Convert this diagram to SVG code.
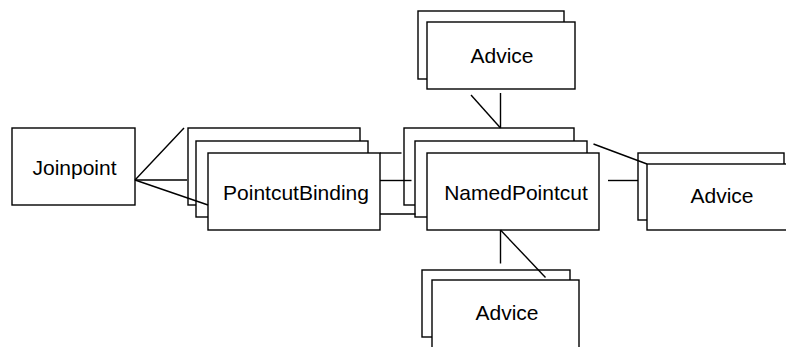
<svg xmlns="http://www.w3.org/2000/svg" width="786" height="347" viewBox="0 0 786 347">
  <style>
    .box { fill: #ffffff; stroke: #000000; stroke-width: 1.4; }
    .lbl { font-family: "Liberation Sans", Arial, sans-serif; font-size: 21px; fill: #000000; text-anchor: middle; }
    .conn line { stroke: #000000; stroke-width: 1.4; }
  </style>
  <rect width="786" height="347" fill="#ffffff"/>

  <g id="joinpoint">
    <rect class="box" x="12" y="128" width="123" height="77"/>
    <text class="lbl" x="74.5" y="175">Joinpoint</text>
  </g>

  <g id="pointcut-binding">
    <rect class="box" x="188" y="128" width="172" height="77"/>
    <rect class="box" x="196" y="141" width="172" height="76"/>
    <rect class="box" x="208" y="153" width="172" height="77"/>
    <text class="lbl" x="296" y="199.5">PointcutBinding</text>
  </g>

  <g id="named-pointcut">
    <rect class="box" x="404" y="128" width="170" height="77"/>
    <rect class="box" x="415" y="141" width="172" height="76"/>
    <rect class="box" x="427" y="153" width="172" height="77"/>
    <text class="lbl" x="516" y="199.5">NamedPointcut</text>
  </g>

  <g id="advice-top">
    <rect class="box" x="418" y="11" width="146" height="68"/>
    <rect class="box" x="427" y="22" width="148" height="67"/>
    <text class="lbl" x="502" y="63">Advice</text>
  </g>

  <g id="advice-right">
    <rect class="box" x="638" y="153" width="146" height="67"/>
    <rect class="box" x="647" y="164" width="148" height="66"/>
    <text class="lbl" x="722" y="203">Advice</text>
  </g>

  <g id="advice-bottom">
    <rect class="box" x="422" y="270" width="148" height="67"/>
    <rect class="box" x="432" y="280" width="147" height="72"/>
    <text class="lbl" x="507" y="320">Advice</text>
  </g>

  <g id="connectors" class="conn">
    <!-- Joinpoint to PointcutBinding stack -->
    <line x1="135" y1="180" x2="184" y2="128"/>
    <line x1="135" y1="180" x2="187" y2="180"/>
    <line x1="135" y1="180" x2="208" y2="205"/>
    <!-- PointcutBinding to NamedPointcut stack -->
    <line x1="380" y1="153" x2="401.5" y2="153"/>
    <line x1="380" y1="180.5" x2="411.5" y2="180.5"/>
    <line x1="380" y1="214" x2="415.5" y2="214"/>
    <!-- NamedPointcut to upper Advice -->
    <line x1="500.5" y1="128" x2="500.5" y2="93"/>
    <line x1="500.5" y1="128" x2="471" y2="95"/>
    <!-- NamedPointcut to lower Advice -->
    <line x1="500.5" y1="230" x2="500.5" y2="263.5"/>
    <line x1="500.5" y1="230" x2="545.5" y2="277.5"/>
    <!-- NamedPointcut to right Advice -->
    <line x1="593.5" y1="144" x2="647" y2="164"/>
    <line x1="608" y1="180.5" x2="638" y2="180.5"/>
  </g>
</svg>
